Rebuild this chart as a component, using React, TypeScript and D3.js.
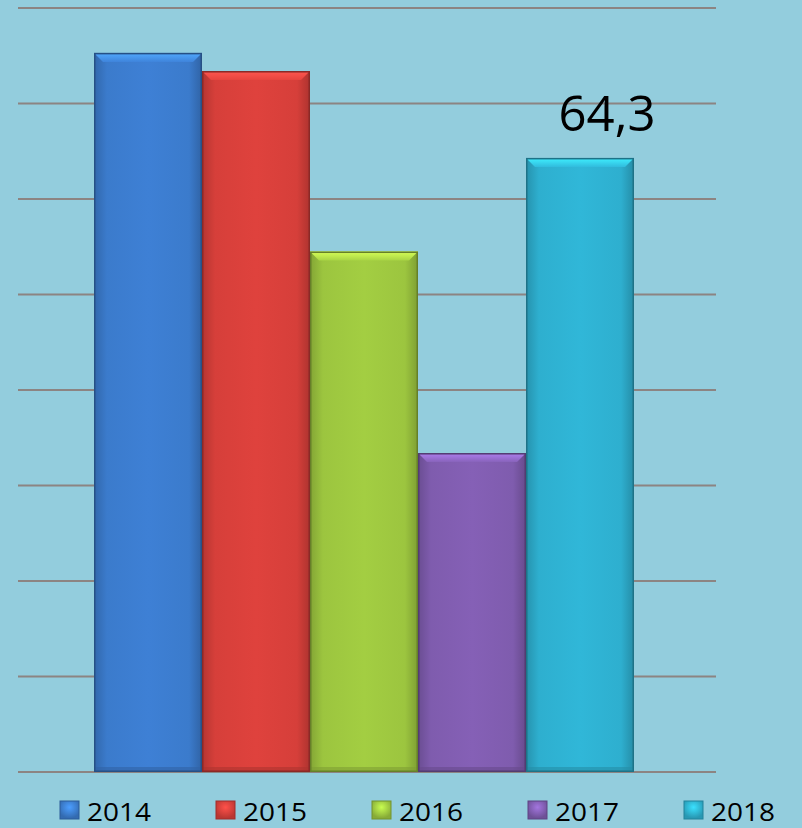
import React from "react";
import * as d3 from "d3";

const years = ["2014", "2015", "2016", "2017", "2018"];
const values = [75.3, 73.4, 54.5, 33.4, 64.3];
const colors = ["#3b7bcc", "#d63f3a", "#9cc53f", "#7f5cae", "#2eafcf"];
const labelIndex = 4;
const labelText = "64,3";
const gridTicks = [0, 10, 20, 30, 40, 50, 60, 70, 80];

const W = 802;
const H = 828;

export default function App() {
  const x = d3.scaleBand<string>().domain(years).range([94, 634]).padding(0);
  const y = d3.scaleLinear().domain([0, 80]).range([772, 8]);
  const bw = x.bandwidth();
  const bev = 9;

  return (
    <svg width={W} height={H} style={{ position: "absolute", left: 0, top: 0 }}>
      <defs>
        {colors.map((c, i) => {
          const col = d3.color(c)!;
          return (
            <React.Fragment key={i}>
              <linearGradient id={`g${i}`} x1="0" x2="1" y1="0" y2="0">
                <stop offset="0" stopColor={col.darker(0.5).formatHex()} />
                <stop offset="0.12" stopColor={c} />
                <stop offset="0.5" stopColor={col.brighter(0.12).formatHex()} />
                <stop offset="0.88" stopColor={c} />
                <stop offset="1" stopColor={col.darker(0.6).formatHex()} />
              </linearGradient>
              <linearGradient id={`t${i}`} x1="0" x2="0" y1="0" y2="1">
                <stop offset="0" stopColor={col.brighter(0.9).formatHex()} />
                <stop offset="1" stopColor={col.brighter(0.2).formatHex()} />
              </linearGradient>
              <radialGradient id={`s${i}`} cx="0.5" cy="0.35" r="0.6">
                <stop offset="0" stopColor={col.brighter(0.7).formatHex()} />
                <stop offset="1" stopColor={col.darker(0.4).formatHex()} />
              </radialGradient>
            </React.Fragment>
          );
        })}
      </defs>
      <rect x={0} y={0} width={W} height={H} fill="#93cddd" />
      {gridTicks.map((t) => (
        <line key={t} x1={18} x2={716} y1={y(t)} y2={y(t)} stroke="#8c8482" strokeWidth={2} />
      ))}
      {years.map((yr, i) => {
        const x0 = x(yr)!;
        const top = y(values[i]);
        const bot = y(0);
        const col = d3.color(colors[i])!;
        return (
          <g key={yr}>
            <rect x={x0} y={top} width={bw} height={bot - top} fill={`url(#g${i})`} />
            <polygon
              points={`${x0},${top} ${x0 + bw},${top} ${x0 + bw - bev},${top + bev} ${x0 + bev},${top + bev}`}
              fill={`url(#t${i})`}
            />
            <rect x={x0} y={bot - 5} width={bw} height={5} fill={col.darker(0.6).formatHex()} opacity={0.6} />
            <rect x={x0 + 0.75} y={top + 0.75} width={bw - 1.5} height={bot - top - 1.5} fill="none"
              stroke={col.darker(1.2).formatHex()} strokeWidth={1.5} />
          </g>
        );
      })}
      <text
        x={x(years[labelIndex])! + bw / 2 + 27}
        y={y(values[labelIndex]) - 27}
        textAnchor="middle"
        fontFamily="'Open Sans', sans-serif"
        fontSize={50}
        textLength={97}
        lengthAdjust="spacingAndGlyphs"
        fill="#000"
      >
        {labelText}
      </text>
      {years.map((yr, i) => {
        const lx = 60 + i * 156;
        const col = d3.color(colors[i])!;
        return (
          <g key={"l" + yr}>
            <rect x={lx} y={801} width={19} height={18} fill={`url(#s${i})`} stroke={col.darker(0.8).formatHex()} strokeWidth={1} />
            <text x={lx + 27} y={821} fontFamily="'Open Sans', sans-serif" fontSize={26}
              textLength={64} lengthAdjust="spacingAndGlyphs" fill="#000">
              {yr}
            </text>
          </g>
        );
      })}
    </svg>
  );
}
